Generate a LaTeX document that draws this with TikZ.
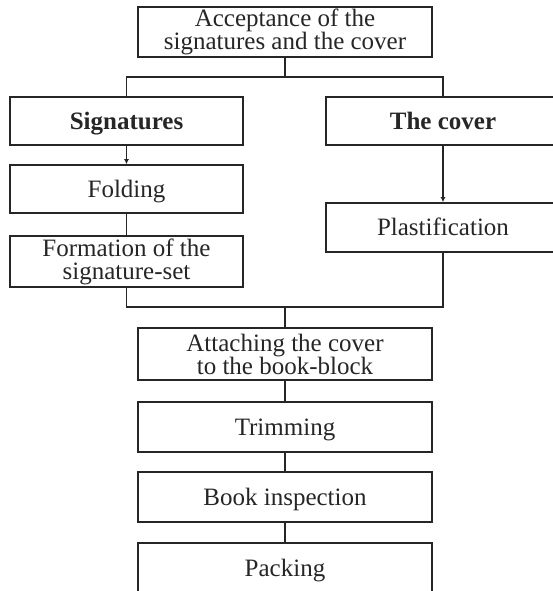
\documentclass[tikz,border=0pt]{standalone}
\usepackage{fontspec}
\setmainfont{Liberation Serif}
\usetikzlibrary{arrows.meta}
\begin{document}
\begin{tikzpicture}[x=1pt,y=-1pt,
  box/.style={draw=black!85, line width=1.6pt, fill=white, inner sep=0pt, align=center,
    font=\fontsize{25}{23}\selectfont, text=black!85},
  one/.style={text height=19pt, text depth=3pt},
  wide/.style={box, minimum width=294pt},
  side/.style={box, minimum width=233pt},
  link/.style={draw=black!85, line width=1.6pt},
  arr/.style={link, -{Latex[length=5pt,width=5pt]}}]
\useasboundingbox (0,0) rectangle (553,591);
\clip (0,0) rectangle (553,591);
\node[wide, minimum height=50pt] (top) at (285,32) {Acceptance of the\\signatures and the cover};
\node[side, one, minimum height=48pt, font=\fontsize{25}{23}\selectfont\bfseries] (sig) at (126.5,121) {Signatures};
\node[side, one, minimum width=234pt, minimum height=48pt, font=\fontsize{25}{23}\selectfont\bfseries] (cov) at (443,121) {The cover};
\node[side, one, minimum height=48pt] (fold) at (126.5,189) {Folding};
\node[side, minimum height=51pt] (form) at (126.5,261.5) {Formation of the\\signature-set};
\node[side, one, minimum width=234pt, minimum height=49pt] (plast) at (443,227.5) {Plastification};
\node[wide, minimum height=52pt] (att) at (285,354) {Attaching the cover\\to the book-block};
\node[wide, one, minimum height=50pt] (trim) at (285,427) {Trimming};
\node[wide, one, minimum height=50pt] (insp) at (285,497) {Book inspection};
\node[wide, one, minimum height=50pt] (pack) at (285,568) {Packing};
\coordinate (j1) at (285,77);
\coordinate (j2) at (285,307);
\draw[link] (top.south) -- (j1);
\draw[link] (j1) -| (sig.north);
\draw[link] (j1) -| (cov.north);
\draw[arr] (sig.south) -- (fold.north);
\draw[arr] (cov.south) -- (plast.north);
\draw[link] (fold.south) -- (form.north);
\draw[link] (form.south) |- (j2);
\draw[link] (plast.south) |- (j2);
\draw[link] (j2) -- (att.north);
\draw[link] (att.south) -- (trim.north);
\draw[link] (trim.south) -- (insp.north);
\draw[link] (insp.south) -- (pack.north);
\end{tikzpicture}
\end{document}
